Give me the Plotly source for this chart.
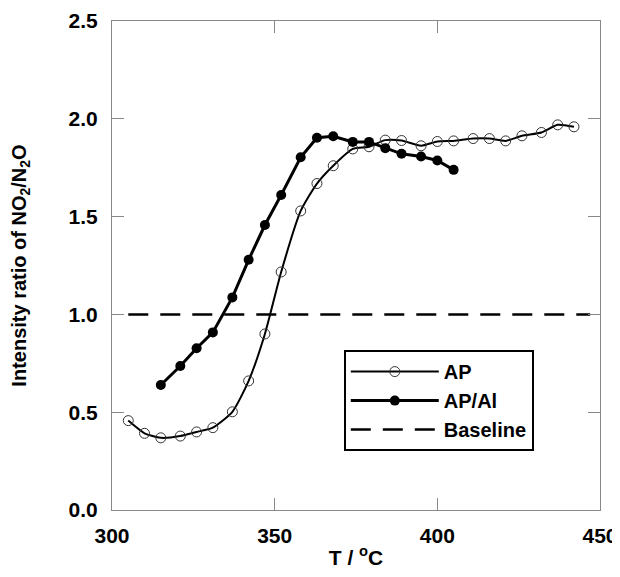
import plotly.graph_objects as go

# AP (open circles)
ap_t = [305, 310, 315, 321, 326, 331, 337, 342, 347, 352, 358, 363, 368, 374, 379,
        384, 389, 395, 400, 405, 411, 416, 421, 426, 432, 437, 442]
ap_r = [0.457, 0.392, 0.369, 0.378, 0.399, 0.421, 0.502, 0.66, 0.90, 1.217, 1.529, 1.669, 1.76, 1.846, 1.857,
        1.891, 1.889, 1.862, 1.884, 1.887, 1.899, 1.899, 1.887, 1.913, 1.930, 1.969, 1.959]

# AP/Al (filled circles)
apal_t = [315, 321, 326, 331, 337, 342, 347, 352, 358, 363, 368, 374, 379, 384, 389, 395, 400, 405]
apal_r = [0.639, 0.736, 0.827, 0.908, 1.087, 1.279, 1.457, 1.610, 1.803, 1.903, 1.911, 1.882, 1.882,
          1.850, 1.821, 1.807, 1.787, 1.739]

# baseline
base_t = [305, 447]
base_r = [1.0, 1.0]

font_b = 'Liberation Sans'

fig = go.Figure()
fig.add_trace(go.Scatter(
    x=ap_t, y=ap_r, name='AP', mode='lines+markers',
    line=dict(color='black', width=2, shape='spline', smoothing=0.6),
    marker=dict(symbol='circle-open', size=10, color='#333333', line=dict(width=1))
))
fig.add_trace(go.Scatter(
    x=apal_t, y=apal_r, name='AP/Al', mode='lines+markers',
    line=dict(color='black', width=3),
    marker=dict(symbol='circle', size=10, color='black')
))
fig.add_trace(go.Scatter(
    x=base_t, y=base_r, name='Baseline', mode='lines',
    line=dict(color='black', width=2.5, dash='20px,12px')
))

axis_common = dict(
    showline=True, linecolor='#888888', linewidth=1, mirror='ticks',
    ticks='inside', ticklen=12, tickcolor='#888888', tickwidth=1,
    showgrid=False, zeroline=False, automargin=False,
    tickfont=dict(family=font_b, size=21, color='black', weight='bold'),
)

fig.update_xaxes(
    range=[300, 450], tickvals=[300, 350, 400, 450], ticktext=['300', '350', '400', '450'],
    title=dict(text='T / <sup>o</sup>C', font=dict(family=font_b, size=21, color='black', weight='bold'),
               standoff=12),
    ticklabelstandoff=7, ticklabeloverflow='allow',
    **axis_common
)
fig.update_yaxes(
    range=[0, 2.5], tickvals=[0, 0.5, 1.0, 1.5, 2.0, 2.5],
    ticktext=['0.0', '0.5', '1.0', '1.5', '2.0', '2.5'],
    title=dict(text='Intensity ratio of NO<sub>2</sub>/N<sub>2</sub>O',
               font=dict(family=font_b, size=20, color='black', weight='bold'), standoff=37),
    ticklabelstandoff=9,
    **axis_common
)

# the page body keeps an 8px margin, so the figure is kept small enough to avoid scrollbars
fig.update_layout(
    width=612, height=561,
    margin=dict(l=104, r=20, t=13, b=59),
    paper_bgcolor='white', plot_bgcolor='white',
    legend=dict(
        x=0.475, y=0.327, xanchor='left', yanchor='top',
        bordercolor='black', borderwidth=2, bgcolor='white',
        font=dict(family=font_b, size=20, color='black', weight='bold'),
        tracegroupgap=0, itemwidth=88,
    ),
    showlegend=True,
)

fig.write_html("out.html")
